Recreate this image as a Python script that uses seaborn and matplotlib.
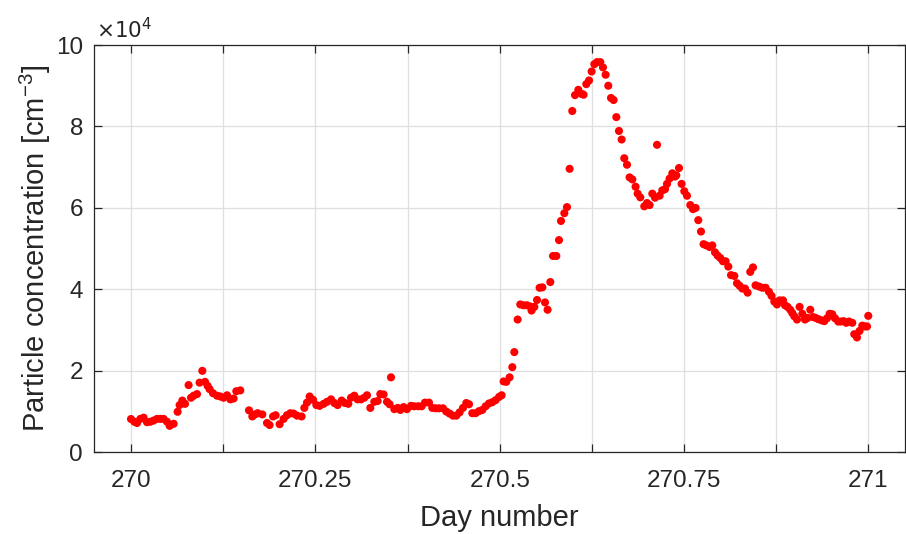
import numpy as np
import seaborn as sns
import matplotlib.pyplot as plt
from matplotlib.ticker import FuncFormatter

# day number of each sample
day = [
    270.0001, 270.0046, 270.0083, 270.0127, 270.0172, 270.0218, 270.0263, 270.0308,
    270.0354, 270.0399, 270.0443, 270.0489, 270.0525, 270.0579, 270.0633, 270.0660,
    270.0697, 270.0733, 270.0782, 270.0815, 270.0850, 270.0896, 270.0931, 270.0968,
    270.1005, 270.1040, 270.1067, 270.1113, 270.1167, 270.1212, 270.1257, 270.1303,
    270.1348, 270.1392, 270.1429, 270.1483, 270.1601, 270.1646, 270.1682, 270.1718,
    270.1781, 270.1845, 270.1880, 270.1927, 270.1962, 270.2016, 270.2070, 270.2116,
    270.2161, 270.2206, 270.2252,
    270.2314, 270.2351, 270.2387, 270.2423, 270.2469, 270.2514, 270.2558, 270.2613,
    270.2659, 270.2713, 270.2758, 270.2802, 270.2857, 270.2903, 270.2947, 270.2984,
    270.3029, 270.3073, 270.3120, 270.3164, 270.3201, 270.3246, 270.3300, 270.3345,
    270.3381, 270.3426, 270.3472, 270.3507, 270.3526, 270.3571, 270.3616, 270.3652,
    270.3697, 270.3743, 270.3797, 270.3842, 270.3896, 270.3941, 270.3987, 270.4041,
    270.4086, 270.4131, 270.4177, 270.4231, 270.4276, 270.4321, 270.4367, 270.4412,
    270.4456, 270.4502, 270.4547, 270.4584, 270.4628, 270.4673, 270.4719,
    270.4764, 270.4809, 270.4855, 270.4900, 270.4944, 270.4991, 270.5026, 270.5053,
    270.5089, 270.5134, 270.5171, 270.5198, 270.5243, 270.5279, 270.5324, 270.5370,
    270.5415, 270.5432, 270.5469, 270.5506, 270.5541, 270.5578, 270.5614, 270.5649,
    270.5686, 270.5723, 270.5767, 270.5804, 270.5831, 270.5876, 270.5912, 270.5948,
    270.5984, 270.6021, 270.6066, 270.6110, 270.6137, 270.6174, 270.6211, 270.6246,
    270.6283, 270.6319, 270.6364, 270.6400, 270.6436, 270.6472, 270.6509, 270.6544,
    270.6581, 270.6617, 270.6653, 270.6689, 270.6726, 270.6761, 270.6798, 270.6842,
    270.6870, 270.6906,
    270.6960, 270.6997, 270.7032, 270.7069, 270.7106, 270.7133, 270.7168, 270.7204,
    270.7241, 270.7268, 270.7303, 270.7340, 270.7377, 270.7394, 270.7431, 270.7466,
    270.7503, 270.7539, 270.7584, 270.7621, 270.7656, 270.7692, 270.7729, 270.7764,
    270.7801, 270.7846, 270.7882, 270.7919, 270.7954, 270.7991, 270.8027, 270.8063,
    270.8099, 270.8136, 270.8181, 270.8217, 270.8252, 270.8289, 270.8326, 270.8361,
    270.8397, 270.8434, 270.8469, 270.8515, 270.8560,
    270.8605, 270.8651, 270.8686, 270.8723, 270.8759, 270.8795, 270.8841, 270.8868,
    270.8903, 270.8939, 270.8967, 270.8994, 270.9031, 270.9066, 270.9103, 270.9139,
    270.9174, 270.9211, 270.9248, 270.9283, 270.9319, 270.9364, 270.9401, 270.9437,
    270.9473, 270.9509, 270.9546, 270.9590, 270.9627, 270.9662, 270.9699, 270.9736,
    270.9780, 270.9807, 270.9844, 270.9879, 270.9916, 270.9952, 270.9980, 270.9997,
]

# particle concentration [cm^-3]
conc = [
    8170, 7500, 7200, 8200, 8500, 7400, 7500, 7800,
    8200, 8200, 8200, 7500, 6500, 7000, 9950, 11600,
    12700, 11900, 16500, 13400, 13900, 14300, 17100, 20000,
    17300, 16300, 15500, 14500, 13900, 13700, 13400, 14000,
    13000, 13200, 15000, 15200, 10300, 8800, 9300, 9600,
    9300, 7200, 6700, 8800, 9100, 6900, 8200, 9100,
    9600, 9500, 9000,
    8800, 10900, 12200, 13700, 12900, 11600, 11400, 11900,
    12400, 13000, 12100, 11600, 12700, 12100, 11900, 13400,
    13900, 13000, 13000, 13400, 14000, 10900, 12400, 12600,
    14300, 14200, 12400, 11800, 18400, 10600, 10900, 10400,
    11100, 10600, 11400, 11300, 11300, 11300, 12200, 12200,
    10900, 10800, 10800, 10800, 10000, 9500, 9000, 9000,
    9800, 10900, 12100, 11800, 9600, 9600, 10100,
    10400, 11300, 12000, 12300, 12800, 13600, 14000, 17400,
    17300, 18400, 20900, 24600, 32600, 36300, 36100, 36100,
    35800, 34800, 35700, 37400, 40400, 40500, 36800, 35000,
    41800, 48200, 48200, 52100, 56800, 58700, 60200, 69600,
    83800, 87700, 89000, 88000, 87800, 90400, 91300, 93500,
    95300, 95800, 95800, 94500, 92700, 90000, 87000, 86500,
    82300, 78900, 76800, 72200, 70600, 67500, 67000, 65200,
    63500, 62600,
    60400, 61200, 60700, 63500, 62500, 75500, 63000, 64300,
    64600, 65900, 67200, 68500, 67700, 68000, 69800, 65900,
    64100, 63000, 60700, 59700, 60000, 57000, 54200, 51100,
    50800, 50400, 50800, 49100, 48300, 47700, 46900, 46900,
    45600, 43500, 43300, 41500, 40900, 40200, 40200, 39200,
    44300, 45400, 41000, 40700, 40400,
    40400, 39400, 38400, 37000, 36300, 37300, 37300, 36100,
    35700, 35000, 34200, 33400, 32600, 35700, 34000, 32600,
    33000, 35000, 33200, 33000, 32700, 32400, 32200, 32900,
    34000, 33900, 32900, 32100, 32100, 32200, 31800, 32100,
    31800, 29000, 28200, 29800, 31100, 30900, 30900, 33500,
]

x_ticks = [270, 270.125, 270.25, 270.375, 270.5, 270.625, 270.75, 270.875, 271]
x_labels = ['270', '', '270.25', '', '270.5', '', '270.75', '', '271']
y_ticks = [0, 20000, 40000, 60000, 80000, 100000]

sns.set_style('ticks')
plt.rcParams['font.family'] = ['Liberation Sans', 'DejaVu Sans']
plt.rcParams['mathtext.default'] = 'regular'

ink = '#262626'
fig = plt.figure(figsize=(9.06, 5.34), dpi=100)
ax = fig.add_axes([0.1038, 0.153, 0.8955, 0.7627])

sns.scatterplot(x=day, y=conc, ax=ax, color='#ff0000', s=34,
                edgecolor='none', linewidth=0, zorder=3)

ax.set_xlim(269.95, 271.05)
ax.set_ylim(0, 100000)
ax.set_xticks(x_ticks)
ax.set_xticklabels(x_labels)
ax.set_yticks(y_ticks)
ax.yaxis.set_major_formatter(FuncFormatter(lambda v, p: f'{v / 1e4:g}'))

ax.grid(True, color='#dfdfdf', linewidth=0.9, zorder=0)
ax.set_axisbelow(True)
for sp in ax.spines.values():
    sp.set_visible(True)
    sp.set_color(ink)
    sp.set_linewidth(0.9)
ax.tick_params(direction='in', length=5.5, width=0.9, color=ink,
               labelcolor=ink, labelsize=17.5, top=True, right=True)
ax.tick_params(axis='x', pad=12.5)
ax.tick_params(axis='y', pad=8)

ax.set_xlabel('Day number', fontsize=21, color=ink, labelpad=9)
ax.set_ylabel('Particle concentration [cm$^{-3}$]', fontsize=21, color=ink,
              labelpad=2)
ax.text(0.003, 1.017, '×10$^{4}$', transform=ax.transAxes, fontsize=15.5,
        family=['DejaVu Sans'], color=ink, ha='left', va='baseline')

fig.savefig('out.png', dpi=100)
